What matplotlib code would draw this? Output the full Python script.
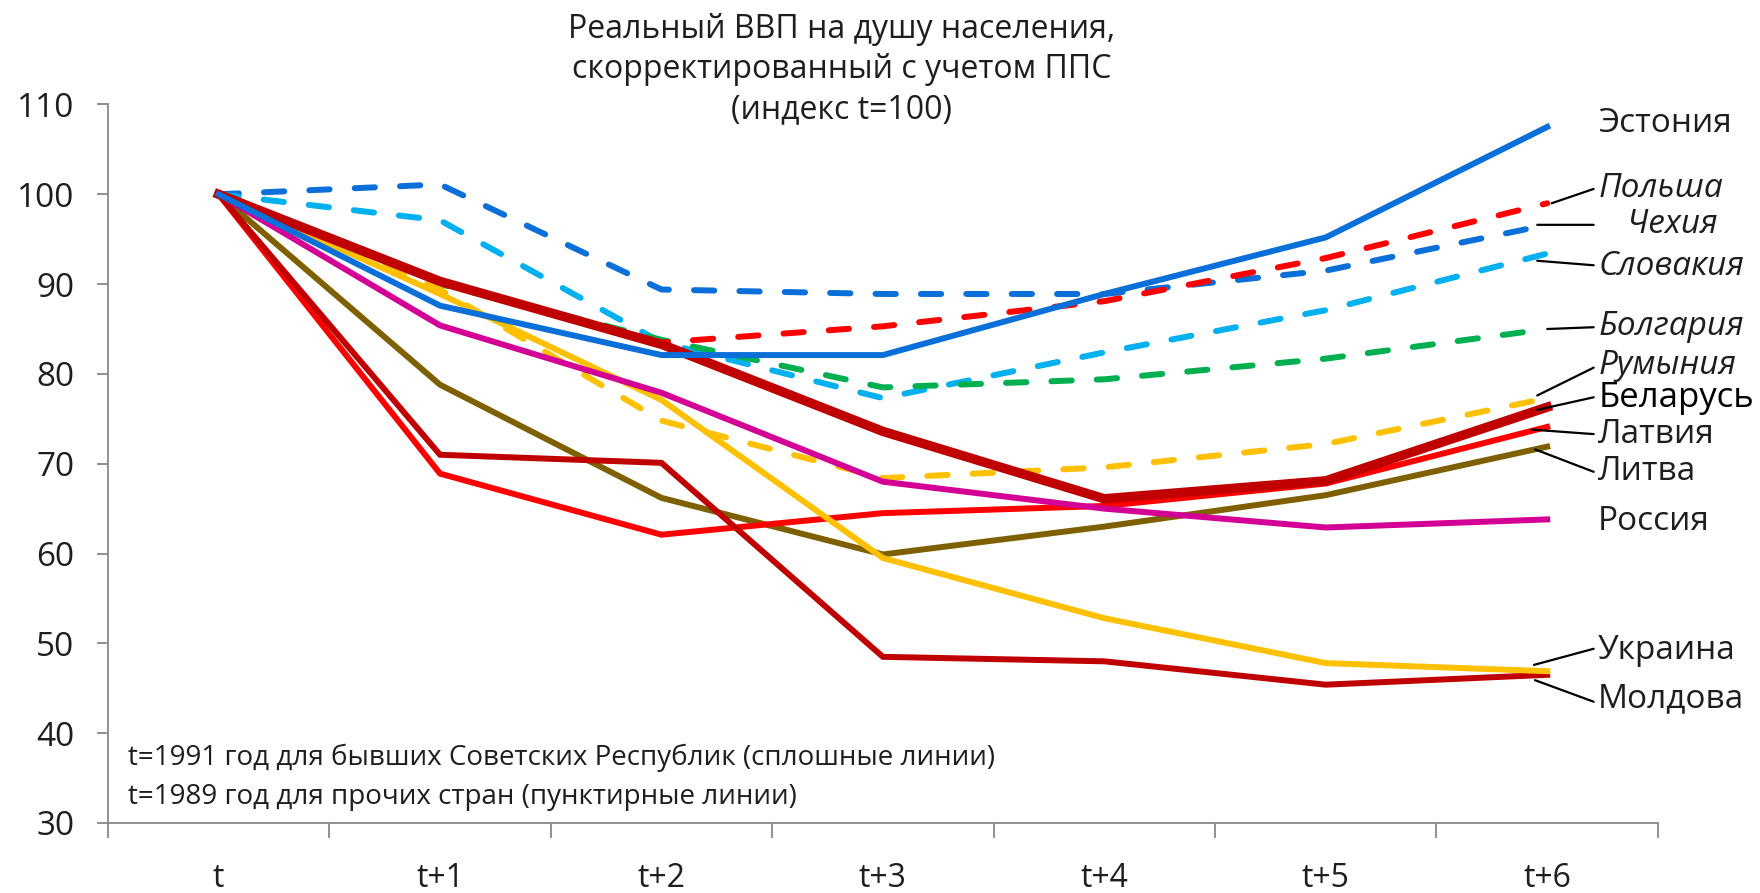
import matplotlib.pyplot as plt

plt.rcParams['font.family'] = ['Open Sans', 'DejaVu Sans']

periods = ['t', 't+1', 't+2', 't+3', 't+4', 't+5', 't+6']

# index t=100
estonia = [100, 87.6, 82.1, 82.1, 88.9, 95.2, 107.5]
poland = [100, 90.2, 83.5, 85.3, 88.1, 92.9, 99.0]
czechia = [100, 101.1, 89.4, 88.9, 88.9, 91.5, 96.6]
slovakia = [100, 97.1, 83.5, 77.3, 82.4, 87.1, 93.4]
bulgaria = [100, 90.0, 83.8, 78.5, 79.4, 81.7, 85.0]
romania = [100, 89.4, 74.8, 68.4, 69.6, 72.2, 77.3]
belarus = [100, 90.3, 83.3, 73.6, 66.1, 68.1, 76.3]
latvia = [100, 68.9, 62.1, 64.5, 65.3, 67.8, 74.1]
lithuania = [100, 78.8, 66.2, 59.9, 63.0, 66.5, 71.9]
russia = [100, 85.4, 77.9, 68.0, 65.0, 62.9, 63.8]
ukraine = [100, 88.9, 77.1, 59.5, 52.8, 47.8, 46.9]
moldova = [100, 71.0, 70.1, 48.5, 48.0, 45.4, 46.5]

x = list(range(len(periods)))
fig = plt.figure(figsize=(17.6, 8.93), dpi=100)
ax = fig.add_axes([0.0613, 0.0784, 0.8807, 0.8046])

dash = dict(linestyle=(0, (3.4, 4.2)), dash_capstyle='round', lw=4.3)
solid = dict(lw=4.3, solid_joinstyle='miter')

ax.plot(x, czechia, color='#0A6FD8', **dash)
ax.plot(x, slovakia, color='#00B0F0', **dash)
ax.plot(x, bulgaria, color='#00B050', **dash)
ax.plot(x, poland, color='#FF0000', **dash)
ax.plot(x, romania, color='#FFC000', **dash)
ax.plot(x, lithuania, color='#7F6000', **solid)
ax.plot(x, latvia, color='#FF0000', **solid)
ax.plot(x, moldova, color='#C00000', **solid)
ax.plot(x, ukraine, color='#FFC000', **solid)
ax.plot(x, russia, color='#D40096', **solid)
ax.plot(x, belarus, color='#C00000', lw=6.8)
ax.plot(x, estonia, color='#0A6FD8', **solid)

# right-hand labels
label_names = ['Эстония', 'Польша', 'Чехия', 'Словакия', 'Болгария', 'Румыния',
               'Беларусь', 'Латвия', 'Литва', 'Россия', 'Украина', 'Молдова']
label_y = [107.9, 100.6, 96.6, 92.0, 85.3, 80.9, 77.3, 73.3, 69.1, 63.6, 49.2, 43.8]
label_x = [6.23, 6.23, 6.36, 6.23, 6.23, 6.23, 6.23, 6.23, 6.23, 6.23, 6.23, 6.23]
label_style = ['normal', 'italic', 'italic', 'italic', 'italic', 'italic',
               'dark', 'normal', 'normal', 'normal', 'normal', 'normal']
# leader lines: (start x, start y, end y) or None
leaders = [None, (6.02, 99.0, 100.6), (5.955, 96.6, 96.6), (5.955, 92.6, 92.1),
           (6.0, 85.0, 85.2), (5.955, 77.6, 80.7), (5.955, 76.0, 77.4),
           (5.93, 73.8, 73.3), (5.945, 71.6, 69.1), None,
           (5.94, 47.6, 49.4), (5.945, 45.9, 43.5)]
for name, lx, ly, st, ld in zip(label_names, label_x, label_y, label_style, leaders):
    ax.text(lx, ly, name, fontsize=25 if st == 'dark' else 24, va='center', ha='left',
            style='italic' if st == 'italic' else 'normal',
            color='black' if st == 'dark' else '#1e1e1e', clip_on=False)
    if ld is not None:
        ax.annotate('', xy=(ld[0], ld[1]), xytext=(6.21, ld[2]),
                    arrowprops=dict(arrowstyle='-', color='black', lw=1.6,
                                    shrinkA=0, shrinkB=0),
                    annotation_clip=False)

ax.set_xlim(-0.5, 6.5)
ax.set_ylim(30, 110)
ax.set_yticks(range(30, 111, 10))
ax.set_xticks([i - 0.5 for i in range(len(periods) + 1)])
ax.set_xticklabels([])
ax.set_xticks(x, minor=True)
ax.set_xticklabels(periods, minor=True)
ax.tick_params(axis='x', which='major', length=11, width=1.3, color='#888888', direction='out')
ax.tick_params(axis='x', which='minor', length=0, pad=28, labelsize=23, labelcolor='#1e1e1e')
ax.tick_params(axis='y', length=8, width=1.3, color='#888888', pad=16, labelsize=24, labelcolor='#1e1e1e')
for s in ['top', 'right']:
    ax.spines[s].set_visible(False)
for s in ['left', 'bottom']:
    ax.spines[s].set_color('#888888')
    ax.spines[s].set_linewidth(1.3)

fig.text(0.478, 0.922, 'Реальный ВВП на душу населения,\nскорректированный с учетом ППС\n(индекс t=100)',
         ha='center', va='center', fontsize=23, color='#1e1e1e', linespacing=1.3)
ax.text(-0.41, 37.2, 't=1991 год для бывших Советских Республик (сплошные линии)',
        fontsize=20, va='center', color='#1e1e1e')
ax.text(-0.41, 32.9, 't=1989 год для прочих стран (пунктирные линии)',
        fontsize=20, va='center', color='#1e1e1e')

fig.savefig('out.png', dpi=100)
